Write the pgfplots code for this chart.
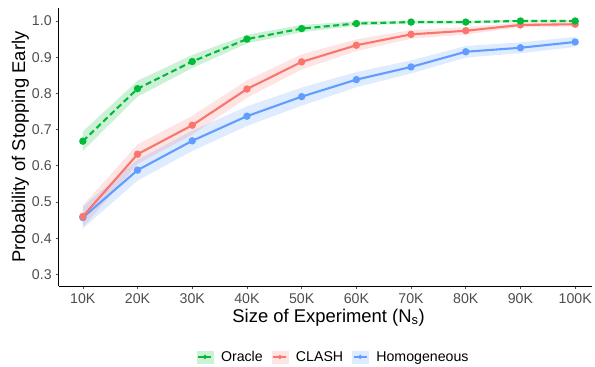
\documentclass[border=0pt]{standalone}
\usepackage{fontspec}
\setmainfont{Liberation Sans}
\usepackage{pgfplots}
\usepackage{pgfplotstable}
\pgfplotsset{compat=1.18}
\usepgfplotslibrary{fillbetween}
\definecolor{oraclec}{HTML}{00BA38}
\definecolor{clashc}{HTML}{F8766D}
\definecolor{homc}{HTML}{619CFF}
\definecolor{tickc}{HTML}{4D4D4D}
\pgfplotstableread{
x y lo hi
10 0.668 0.641 0.695
20 0.813 0.791 0.835
30 0.888 0.870 0.906
40 0.950 0.938 0.962
50 0.979 0.969 0.989
60 0.993 0.987 0.999
70 0.997 0.993 1.001
80 0.997 0.993 1.001
90 1.000 0.997 1.003
100 1.000 0.997 1.003
}\oracle
\pgfplotstableread{
x y lo hi
10 0.460 0.430 0.490
20 0.632 0.605 0.659
30 0.712 0.686 0.738
40 0.812 0.788 0.836
50 0.887 0.866 0.908
60 0.933 0.917 0.949
70 0.963 0.951 0.975
80 0.973 0.963 0.983
90 0.989 0.982 0.996
100 0.991 0.985 0.997
}\clash
\pgfplotstableread{
x y lo hi
10 0.457 0.427 0.487
20 0.588 0.559 0.617
30 0.669 0.641 0.697
40 0.737 0.710 0.764
50 0.791 0.766 0.816
60 0.838 0.817 0.859
70 0.873 0.855 0.891
80 0.915 0.899 0.931
90 0.926 0.911 0.941
100 0.942 0.928 0.956
}\homog
\begin{document}
\begin{tikzpicture}
\path (0bp,0bp) rectangle (595bp,369bp);
\begin{axis}[
  at={(59bp,81bp)}, anchor=south west,
  scale only axis, width=536bp, height=280bp,
  xmin=5.58, xmax=103, ymin=0.267, ymax=1.036,
  axis x line=bottom, axis y line=left,
  axis line style={-, black, line width=0.8pt},
  xtick={10,20,...,100},
  xticklabels={10K,20K,30K,40K,50K,60K,70K,80K,90K,100K},
  ytick={0.3,0.4,...,1.0},
  yticklabel style={/pgf/number format/.cd, fixed, fixed zerofill, precision=1, /tikz/.cd, xshift=-0.5bp},
  /pgf/number format/assume math mode=true,
  tick align=outside, major tick length=3bp,
  tick style={tickc, line width=0.6pt},
  ticklabel style={font=\fontsize{14.3}{17}\selectfont, text=tickc},
  xticklabel style={yshift=-0.5bp},
  xlabel={Size of Experiment (N\textsubscript{s})},
  ylabel={Probability of Stopping Early},
  label style={font=\fontsize{18.6}{22}\selectfont},
  xlabel style={at={(axis description cs:0.5065,-0.111)}, anchor=center},
  ylabel style={at={(axis description cs:-0.0718,0.5)}, anchor=center},
  clip=false,
  legend style={at={(axis description cs:0.516,-0.2536)}, anchor=center,
    draw=none, fill=none, font=\fontsize{14.3}{17}\selectfont,
    legend columns=-1,
    /tikz/every odd column/.append style={column sep=6bp},
    /tikz/every even column/.append style={column sep=7bp}},
  legend cell align=left,
]
\addplot[draw=none, name path=ohi, forget plot] table[x=x,y=hi] {\oracle};
\addplot[draw=none, name path=olo, forget plot] table[x=x,y=lo] {\oracle};
\addplot[fill=oraclec, fill opacity=0.2, draw=none, forget plot] fill between[of=ohi and olo];
\addplot[draw=none, name path=chi, forget plot] table[x=x,y=hi] {\clash};
\addplot[draw=none, name path=clo, forget plot] table[x=x,y=lo] {\clash};
\addplot[fill=clashc, fill opacity=0.2, draw=none, forget plot] fill between[of=chi and clo];
\addplot[draw=none, name path=hhi, forget plot] table[x=x,y=hi] {\homog};
\addplot[draw=none, name path=hlo, forget plot] table[x=x,y=lo] {\homog};
\addplot[fill=homc, fill opacity=0.2, draw=none, forget plot] fill between[of=hhi and hlo];
\addplot[homc, line width=2.1bp, mark=*, mark size=2.6bp, forget plot] table[x=x,y=y] {\homog};
\addplot[clashc, line width=2.1bp, mark=*, mark size=2.6bp, forget plot] table[x=x,y=y] {\clash};
\addplot[oraclec, line width=2.1bp, dash pattern=on 6bp off 3.5bp, mark=*, mark size=2.6bp, mark options={solid}, forget plot] table[x=x,y=y] {\oracle};
\addlegendimage{legend image code/.code={\fill[oraclec!20] (0,-6bp) rectangle (16bp,6bp); \draw[oraclec, line width=1.6bp] (1.5bp,0)--(14.5bp,0); \fill[oraclec] (8bp,0) circle (2bp);}}
\addlegendentry{Oracle}
\addlegendimage{legend image code/.code={\fill[clashc!20] (0,-6bp) rectangle (16bp,6bp); \draw[clashc, line width=1.6bp] (1.5bp,0)--(14.5bp,0); \fill[clashc] (8bp,0) circle (2bp);}}
\addlegendentry{CLASH}
\addlegendimage{legend image code/.code={\fill[homc!20] (0,-6bp) rectangle (16bp,6bp); \draw[homc, line width=1.6bp] (1.5bp,0)--(14.5bp,0); \fill[homc] (8bp,0) circle (2bp);}}
\addlegendentry{Homogeneous}
\end{axis}
\end{tikzpicture}
\end{document}
